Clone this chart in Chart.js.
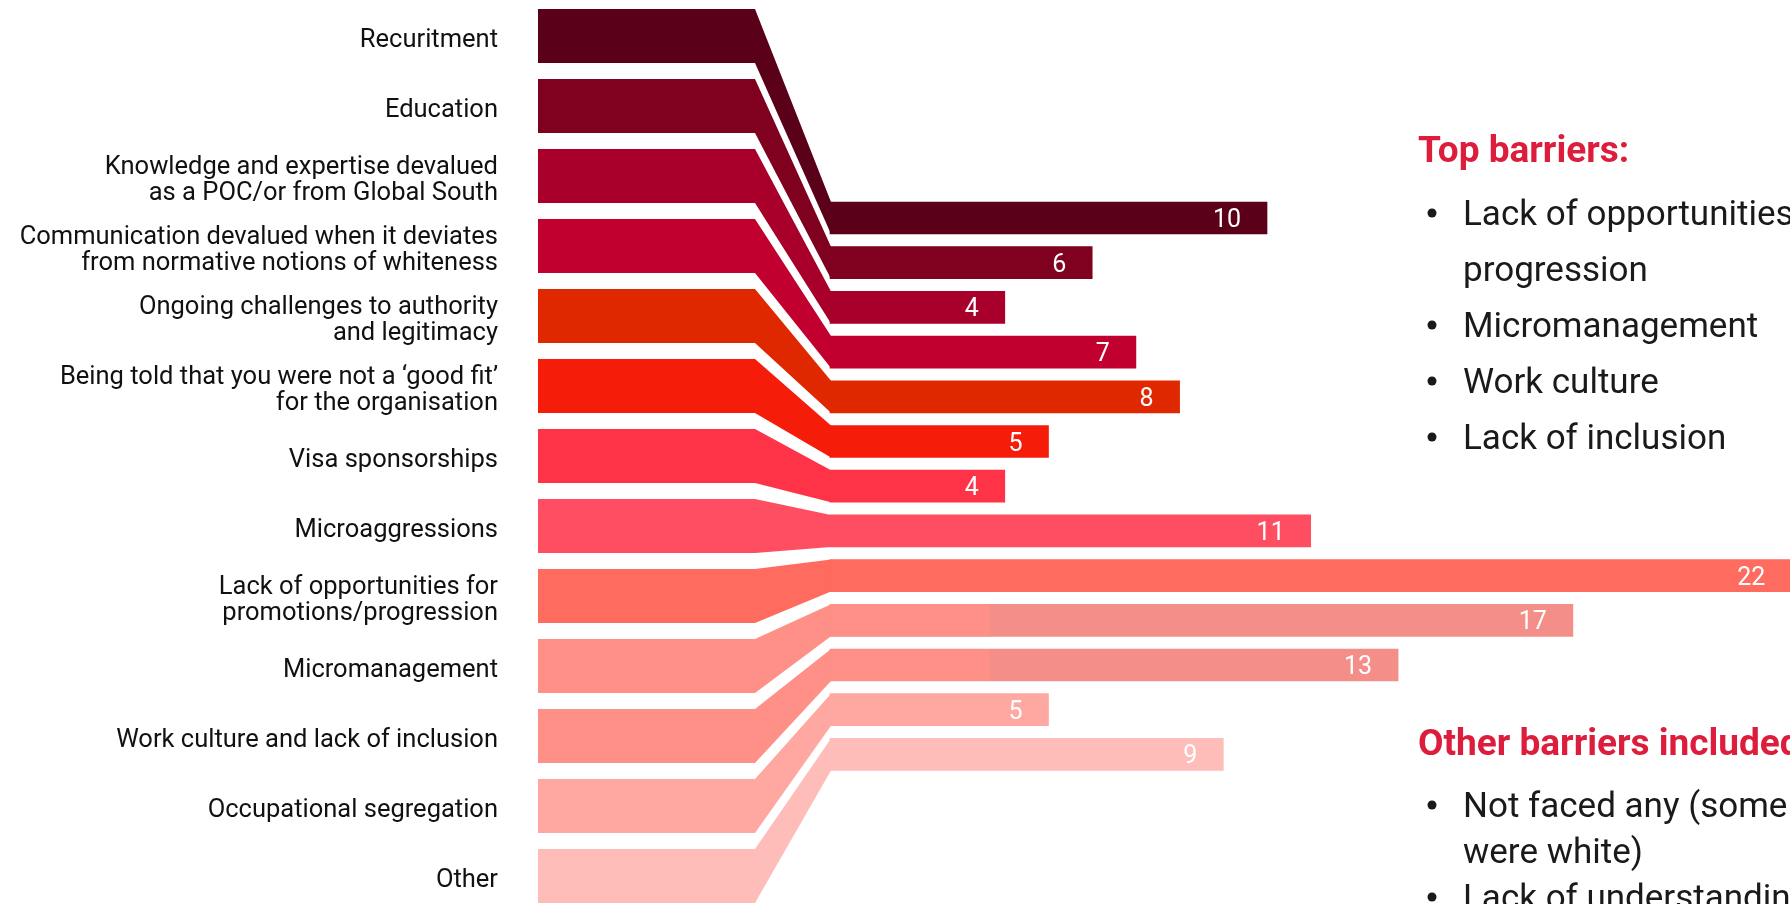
<!DOCTYPE html>
<html>
<head>
<meta charset="utf-8">
<title>Barriers faced</title>
<script src="https://cdn.jsdelivr.net/npm/chart.js@4.4.1/dist/chart.umd.min.js"></script>
<style>
  html, body { margin: 0; padding: 0; background: #fff; overflow: hidden; }
  #wrap { width: 1790px; height: 904px; }
</style>
</head>
<body>
<div id="wrap"><canvas id="barriersChart" width="1790" height="904"></canvas></div>
<script>
// Data
const categories = [
    ['Recuritment'],
    ['Education'],
    ['Knowledge and expertise devalued', 'as a POC/or from Global South'],
    ['Communication devalued when it deviates', 'from normative notions of whiteness'],
    ['Ongoing challenges to authority', 'and legitimacy'],
    ['Being told that you were not a \u2018good fit\u2019', 'for the organisation'],
    ['Visa sponsorships'],
    ['Microaggressions'],
    ['Lack of opportunities for', 'promotions/progression'],
    ['Micromanagement'],
    ['Work culture and lack of inclusion'],
    ['Occupational segregation'],
    ['Other']
];
const counts = [10, 6, 4, 7, 8, 5, 4, 11, 22, 17, 13, 5, 9];
const ribbonColors = ['#5a0018', '#800020', '#a8002b', '#c2002f', '#e02800', '#f51c0a', '#ff3347',
    '#ff4d62', '#ff6b5e', '#ff9088', '#ff9088', '#ffa8a2', '#ffbdba'];
const barColors = ['#5a0018', '#800020', '#a8002b', '#c2002f', '#e02800', '#f51c0a', '#ff3347',
    '#ff4d62', '#ff6b5e', '#f48e88', '#f48e88', '#ffa8a2', '#ffbdba'];
const topBarriers = [['Lack of opportunities for promotions/', 'progression'], ['Micromanagement'], ['Work culture'], ['Lack of inclusion']];
const otherBarriers = [['Not faced any (some participants', 'were white)'], ['Lack of understanding']];

// Layout
const W = 1790, H = 904;
const barStart = 830, unitPx = 43.7;      // x
const barTop = 218, barPitch = 44.7;      // right bars
const blockTop = 36, blockPitch = 70;     // left blocks
const blockLeft = 538, blockRight = 755, blockHalf = 27, barHalf = 16;
const labelRight = 498;
const RED = '#dc1e3c';
const FONT = 'Roboto, "Liberation Sans", sans-serif';

// Left blocks, ribbons, labels and side notes
const ribbonPlugin = {
    id: 'ribbons',
    beforeDatasetsDraw(chart) {
        const { ctx, scales } = chart;
        const x0 = scales.x.getPixelForValue(0);
        ctx.save();
        categories.forEach((lab, i) => {
            const cl = scales.yL.getPixelForValue(i);
            const cr = scales.y.getPixelForValue(i);
            ctx.fillStyle = ribbonColors[i];
            ctx.beginPath();
            ctx.moveTo(blockLeft, cl - blockHalf);
            ctx.lineTo(blockRight, cl - blockHalf);
            ctx.lineTo(x0 + 1, cr - barHalf);
            ctx.lineTo(x0 + 1, cr + barHalf);
            ctx.lineTo(blockRight, cl + blockHalf);
            ctx.lineTo(blockLeft, cl + blockHalf);
            ctx.closePath();
            ctx.fill();

            // category label
            ctx.fillStyle = '#111';
            ctx.font = '25.5px ' + FONT;
            ctx.textAlign = 'right';
            ctx.textBaseline = 'alphabetic';
            if (lab.length === 1) {
                ctx.fillText(lab[0], labelRight, cl + 11);
            } else {
                ctx.fillText(lab[0], labelRight, cl - 13.3 + 11);
                ctx.fillText(lab[1], labelRight, cl + 13.3 + 11);
            }
        });
        ctx.restore();
    },
    afterDatasetsDraw(chart) {
        const { ctx, scales } = chart;
        const x0 = scales.x.getPixelForValue(0);
        const meta = chart.getDatasetMeta(0);
        ctx.save();
        // lighter lead-in on the bars whose colour changes
        meta.data.forEach((bar, i) => {
            if (barColors[i] !== ribbonColors[i]) {
                ctx.fillStyle = ribbonColors[i];
                ctx.fillRect(x0, bar.y - barHalf, 160, barHalf * 2);
            }
        });
        // value labels
        ctx.fillStyle = '#fff';
        ctx.font = '25px ' + FONT;
        ctx.textAlign = 'right';
        meta.data.forEach((bar, i) => {
            ctx.fillText(String(counts[i]), Math.min(bar.x, W + 4) - 26, bar.y + 9);
        });

        // side notes
        ctx.textAlign = 'left';
        ctx.fillStyle = RED;
        ctx.font = 'bold 37px ' + FONT;
        ctx.fillText('Top barriers:', 1418, 162);
        ctx.fillText('Other barriers included:', 1418, 755);

        ctx.font = '35px ' + FONT;
        const drawList = (items, y, step) => {
            items.forEach(lines => {
                ctx.fillStyle = '#1a1a1a';
                ctx.beginPath();
                ctx.arc(1432, y - 12, 4.5, 0, Math.PI * 2);
                ctx.fill();
                lines.forEach(line => {
                    ctx.fillText(line, 1463, y);
                    y += step;
                });
            });
        };
        drawList(topBarriers, 225, 56);
        drawList(otherBarriers, 817, 46);
        ctx.restore();
    }
};

new Chart(document.getElementById('barriersChart'), {
    type: 'bar',
    data: {
        labels: categories.map(c => c.join(' ')),
        datasets: [{
            data: counts.map((v, i) => ({ x: v, y: i })),
            backgroundColor: barColors,
            borderWidth: 0,
            barThickness: barHalf * 2
        }]
    },
    options: {
        indexAxis: 'y',
        responsive: false,
        animation: false,
        devicePixelRatio: 1,
        layout: { padding: 0 },
        plugins: { legend: { display: false }, tooltip: { enabled: false } },
        scales: {
            x: { type: 'linear', display: false, offset: false, min: -barStart / unitPx, max: (W - barStart) / unitPx },
            y: { type: 'linear', display: false, offset: false, reverse: true, min: -barTop / barPitch, max: (H - barTop) / barPitch },
            yL: { type: 'linear', display: false, offset: false, reverse: true, axis: 'y', min: -blockTop / blockPitch, max: (H - blockTop) / blockPitch }
        }
    },
    plugins: [ribbonPlugin]
});
</script>
</body>
</html>
